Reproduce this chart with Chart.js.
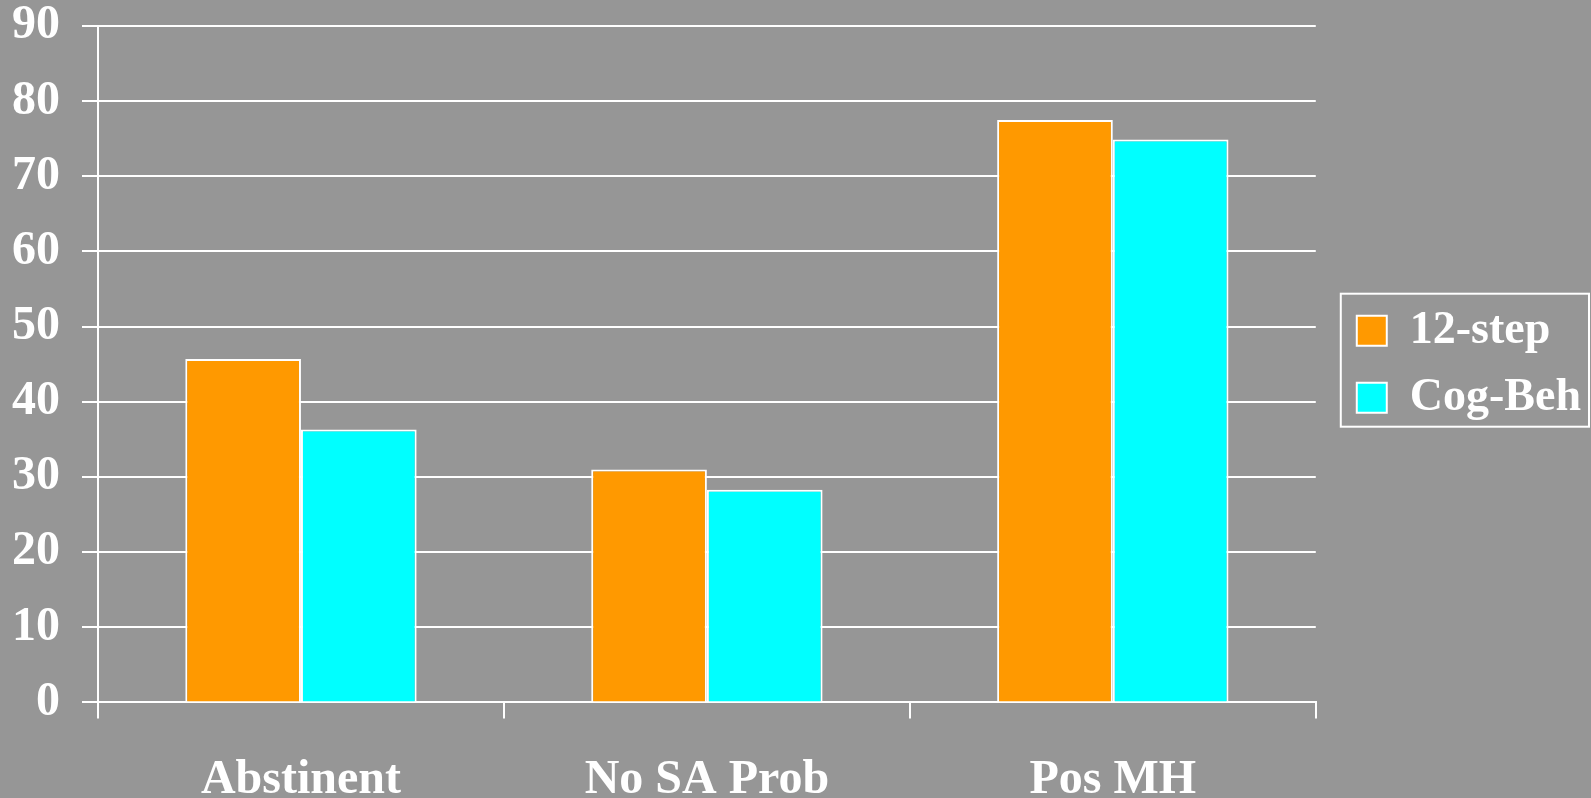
<!DOCTYPE html>
<html>
<head>
<meta charset="utf-8">
<script src="https://cdn.jsdelivr.net/npm/chart.js@4"></script>
<style>
  html, body { margin: 0; padding: 0; background: #969696; }
  #wrap { width: 1591px; height: 798px; position: relative; }
</style>
</head>
<body>
<div id="wrap"><canvas id="myChart"></canvas></div>
<script>
// values (percent)
var categories = ['Abstinent', 'No SA Prob', 'Pos MH'];
var twelveStep = [45.7, 31.0, 77.5];
var cogBeh = [36.3, 28.3, 74.9];
var yTicks = [0, 10, 20, 30, 40, 50, 60, 70, 80, 90];

var family = '"Liberation Serif", "Times New Roman", serif';
var font = {family: family, size: 48, weight: 'bold'};
var legendFont = {family: family, size: 46, weight: 'bold'};

// white frame round the legend
var legendBox = {
	id: 'legendBox',
	afterDraw: function(chart) {
		var boxes = chart.legend.legendHitBoxes;
		if (!boxes || !boxes.length) return;
		var c = chart.ctx;
		var left = boxes[0].left - 16;
		var top = boxes[0].top - 14;
		var right = 0, bottom = 0;
		boxes.forEach(function(b) {
			right = Math.max(right, b.left + b.width);
			bottom = Math.max(bottom, b.top + b.height);
		});
		right += 8;
		bottom += 6;
		c.save();
		c.strokeStyle = '#ffffff';
		c.lineWidth = 2;
		c.strokeRect(left, top, right - left, bottom - top);
		c.restore();
	}
};

var ctx = document.getElementById('myChart').getContext('2d');
var myChart = new Chart(ctx, {
	type: 'bar',
	data: {
		labels: categories,
		datasets: [{
			label: '12-step',
			backgroundColor: '#ff9900',
			borderColor: '#ffffff',
			borderWidth: 2,
			yAxisID: 'y',
			data: twelveStep
		},
		{
			label: 'Cog-Beh',
			backgroundColor: '#00ffff',
			borderColor: '#ffffff',
			borderWidth: 2,
			yAxisID: 'y',
			data: cogBeh
		}]
	},
	options: {
		responsive: true,
		maintainAspectRatio: false,
		animation: false,
		layout: {padding: {left: -10, right: 0, top: 26, bottom: -44}},
		datasets: {bar: {categoryPercentage: 0.57, barPercentage: 1}},
		plugins: {
			tooltip: {enabled: false},
			legend: {
				position: 'right',
				fullSize: false,
				labels: {
					color: '#ffffff',
					font: legendFont,
					boxWidth: 30,
					boxHeight: 30,
					padding: 21
				}
			}
		},
		scales: {
			x: {
				grid: {drawOnChartArea: false, color: '#ffffff', lineWidth: 2, tickLength: 16, tickColor: '#ffffff'},
				border: {color: '#ffffff', width: 2},
				ticks: {color: '#ffffff', font: font, padding: 33}
			},
			y: {
				min: 0,
				max: 90,
				afterBuildTicks: function(axis) {
					axis.ticks = yTicks.map(function(v) { return {value: v}; });
				},
				afterFit: function(axis) {
					axis.paddingTop = 0;
					axis.paddingBottom = 0;
				},
				grid: {color: '#ffffff', lineWidth: 2, tickLength: 16, tickColor: '#ffffff'},
				border: {color: '#ffffff', width: 2},
				ticks: {color: '#ffffff', font: font, padding: 22}
			},
			// empty strip between plot and legend
			gap: {
				type: 'linear',
				position: 'right',
				grid: {display: false},
				border: {display: false},
				ticks: {display: false},
				afterFit: function(axis) { axis.width = 20; }
			}
		}
	},
	plugins: [legendBox]
});
</script>
</body>
</html>
